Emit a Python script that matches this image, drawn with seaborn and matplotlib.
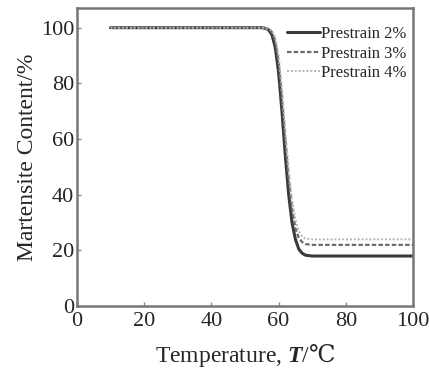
import matplotlib
matplotlib.use('Agg')
import matplotlib.pyplot as plt
import numpy as np
import pandas as pd
import seaborn as sns

# values
temps = [10, 55, 56, 57, 58, 59, 60, 61, 62, 63, 64, 65, 66, 67, 68, 70, 100]
strain_2 = [100, 100, 99.8, 99.3, 97.5, 93, 84, 70, 54, 40, 30, 24, 20.5, 19, 18.3, 18, 18]
strain_3 = [100, 100, 99.8, 99.5, 98.5, 95.5, 88, 75, 60, 46, 35, 28, 24.5, 23, 22.3, 22, 22]
strain_4 = [100, 100, 99.9, 99.6, 99, 96.5, 90, 78, 63, 49, 38, 31, 27, 25, 24.2, 24, 24]
labels = ['Prestrain 2%', 'Prestrain 3%', 'Prestrain 4%']

df = pd.concat([
    pd.DataFrame({'T': temps, 'M': strain_2, 'series': labels[0]}),
    pd.DataFrame({'T': temps, 'M': strain_3, 'series': labels[1]}),
    pd.DataFrame({'T': temps, 'M': strain_4, 'series': labels[2]}),
])

sns.set_style('ticks')
plt.rcParams['font.family'] = ['Liberation Serif', 'DejaVu Serif']
plt.rcParams['mathtext.fontset'] = 'custom'
plt.rcParams['mathtext.rm'] = 'Liberation Serif'
plt.rcParams['mathtext.it'] = 'Liberation Serif:italic'
plt.rcParams['mathtext.bf'] = 'Liberation Serif:bold:italic'
plt.rcParams['mathtext.sf'] = 'DejaVu Serif'

fig = plt.figure(figsize=(4.29, 3.72), dpi=100)
ax = fig.add_axes([0.179, 0.177, 0.784, 0.801])

sns.lineplot(data=df, x='T', y='M', hue='series', style='series',
             palette=['#3a3a3a', '#6a6a6a', '#b5b5b5'],
             dashes=[(None, None), (2, 1), (1, 1)], ax=ax)
widths = [2.2, 1.6, 1.4]
for line, lw in zip(ax.lines, widths):
    line.set_linewidth(lw)

ax.set_xlim(0, 100)
ax.set_ylim(0, 107)
ax.set_xticks([0, 20, 40, 60, 80, 100])
ax.set_yticks([0, 20, 40, 60, 80, 100])
ax.tick_params(direction='in', length=3, width=1, color='#888888', labelsize=16)
ax.tick_params(axis='x', pad=4)
ax.tick_params(axis='y', pad=2)
for sp in ax.spines.values():
    sp.set_visible(True)
    sp.set_color('#777777')
    sp.set_linewidth(1.8)

ax.set_xlabel('Temperature, $\\mathbf{T}$/$\\mathsf{\u2103}$', fontsize=17, labelpad=8)
ax.set_ylabel('Martensite Content/%', fontsize=17, labelpad=2)

leg = ax.legend(loc='upper right', bbox_to_anchor=(1.01, 0.973), frameon=False,
                fontsize=12, handlelength=2.0, handletextpad=0.05,
                labelspacing=0.2, borderaxespad=0.2)
for h, lw in zip(leg.get_lines(), widths):
    h.set_linewidth(lw)

fig.savefig('out.png', dpi=100)
